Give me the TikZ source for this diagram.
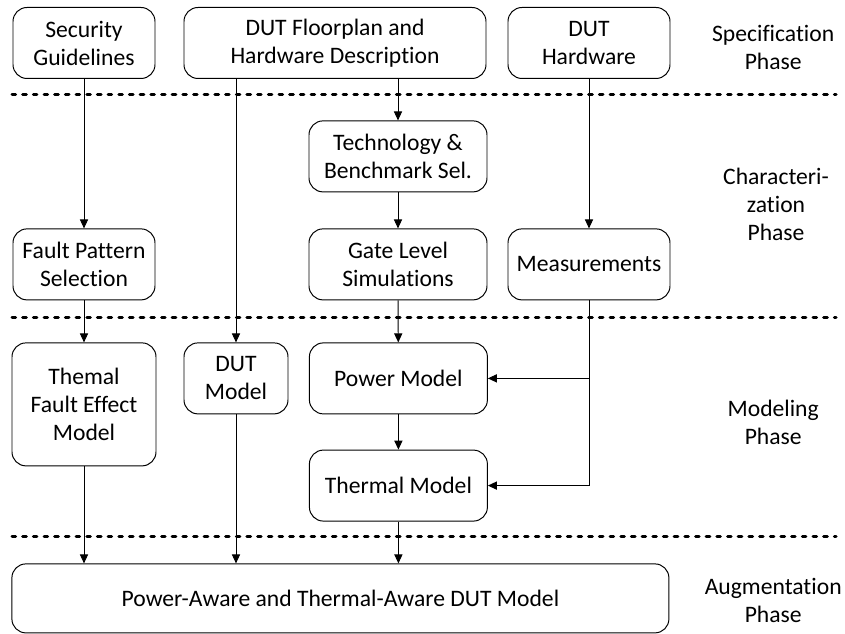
\documentclass[tikz,border=0pt]{standalone}
\usepackage{fontspec}
\setmainfont{Carlito}[Ligatures=NoCommon]
\usepackage{tikz}
\usetikzlibrary{arrows.meta,positioning,calc}
\definecolor{linec}{HTML}{000000}

\begin{document}
\begin{tikzpicture}[font=\fontsize{16.8}{19.9}\selectfont,
  box/.style={draw=linec,line width=0.7pt,rounded corners=0.35cm,align=center,
              minimum height=1.775cm,inner sep=2pt},
  arr/.style={draw=linec,line width=0.7pt,-{Triangle[length=6.4pt,width=5.8pt]}},
  sep/.style={line width=0.075cm,line cap=round,dash pattern=on 0.09cm off 0.177cm},
  phase/.style={align=center},
]
\useasboundingbox (0,0) rectangle (21.125,15.85);

\node[box,minimum width=3.55cm] (sec) at (2.1,14.775) {Security\\Guidelines};
\node[box,minimum width=7.55cm] (floor) at (8.375,14.775) {DUT Floorplan and\\Hardware Description};
\node[box,minimum width=4.05cm] (hw) at (14.725,14.775) {DUT\\Hardware};

\node[box,minimum width=4.45cm] (tech) at (9.95,11.94) {Technology \&\\Benchmark Sel.};
\node[box,minimum width=3.55cm] (fault) at (2.1,9.24) {Fault Pattern\\Selection};
\node[box,minimum width=4.45cm] (gate) at (9.95,9.24) {Gate Level\\Simulations};
\node[box,minimum width=4.05cm] (meas) at (14.725,9.24) {Measurements};

\node[box,minimum width=3.6cm,minimum height=3.075cm] (tfem) at (2.1,5.74) {Themal\\Fault Effect\\Model};
\node[box,minimum width=2.6cm] (dutm) at (5.9,6.39) {DUT\\Model};
\node[box,minimum width=4.45cm] (pow) at (9.96,6.39) {Power Model};
\node[box,minimum width=4.45cm] (therm) at (9.96,3.71) {Thermal Model};

\node[box,minimum width=16.425cm,minimum height=1.725cm] (aug) at (8.51,0.89)
  {Power-Aware and Thermal-Aware DUT Model};

\node[phase] (pspec) at (19.33,14.675) {Specification\\Phase};
\node[phase] (pchar) at (19.4,10.75) {Characteri-\\zation\\Phase};
\node[phase] (pmod) at (19.33,5.3) {Modeling\\Phase};
\node[phase] (paug) at (19.33,0.85) {Augmentation\\Phase};

\draw[sep] (0.3,13.475) -- (20.9,13.475);
\draw[sep] (0.3,7.9) -- (20.9,7.9);
\draw[sep] (0.3,2.425) -- (20.9,2.425);

\draw[arr] (sec) -- (fault);
\draw[arr] (floor.south -| dutm.north) -- (dutm.north);
\draw[arr] (floor.south -| tech.north) -- (tech.north);
\draw[arr] (hw) -- (meas);
\draw[arr] (tech) -- (gate);
\draw[arr] (fault) -- (tfem);
\draw[arr] (gate) -- (pow);
\draw[arr] (pow) -- (therm);

\coordinate (tap) at (meas.south |- pow.east);
\draw[arr] (meas.south) |- (therm.east);
\draw[arr] (tap) -- (pow.east);

\draw[arr] (tfem.south) -- (tfem.south |- aug.north);
\draw[arr] (dutm.south) -- (dutm.south |- aug.north);
\draw[arr] (therm.south) -- (therm.south |- aug.north);
\end{tikzpicture}
\end{document}
